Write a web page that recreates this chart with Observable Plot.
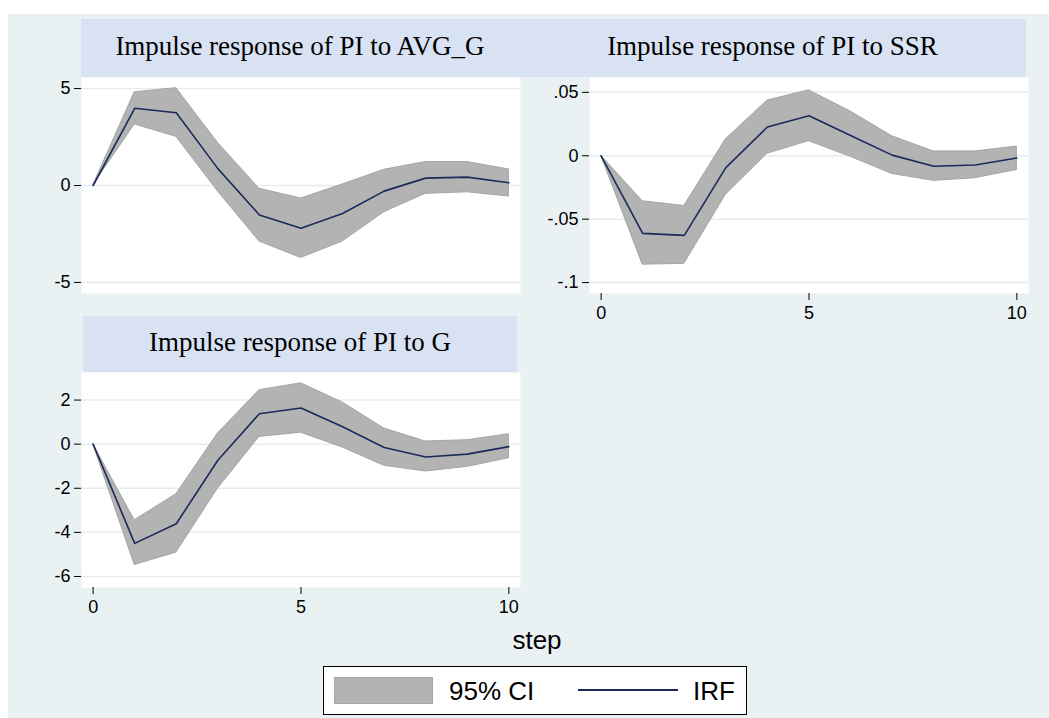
<!DOCTYPE html>
<html>
<head>
<meta charset="utf-8">
<script src="https://cdn.jsdelivr.net/npm/d3@7"></script>
<script src="https://cdn.jsdelivr.net/npm/@observablehq/plot@0.6"></script>
<style>
  body { margin: 0; background: #ffffff; }
  #root { position: relative; width: 1049px; height: 718px; overflow: hidden; background: #ffffff; }
  .abs { position: absolute; }
  .bg { left: 8px; top: 14px; width: 1041px; height: 704px; background: #e9f1f3; }
  .band { background: #d9e2f2; display: flex; align-items: center; justify-content: center;
          font-family: "Liberation Serif", "Times New Roman", serif; font-size: 27px; color: #000; white-space: nowrap; }
  .band span { transform: translateY(-2px); }
  .sans { font-family: "Liberation Sans", Arial, sans-serif; color: #000; white-space: nowrap; }
</style>
</head>
<body>
<div id="root">
  <div class="abs bg"></div>
</div>
<script>
// ---- data ----
const steps = [0, 1, 2, 3, 4, 5, 6, 7, 8, 9, 10];

const avgIrf = [0, 3.98, 3.75, 0.87, -1.52, -2.21, -1.44, -0.29, 0.38, 0.43, 0.14];
const avgHi  = [0, 4.81, 5.02, 2.2, -0.17, -0.67, 0.05, 0.81, 1.21, 1.21, 0.83];
const avgLo  = [0, 3.15, 2.51, -0.3, -2.89, -3.74, -2.89, -1.38, -0.43, -0.35, -0.57];

const ssrIrf = [0, -0.0612, -0.0628, -0.0094, 0.0227, 0.0315, 0.016, 0.0005, -0.0083, -0.0073, -0.0018];
const ssrHi  = [0, -0.0359, -0.0396, 0.013, 0.0435, 0.0516, 0.0349, 0.0154, 0.0034, 0.0034, 0.0073];
const ssrLo  = [0, -0.0859, -0.0852, -0.0307, 0.0016, 0.0115, -0.0008, -0.0143, -0.0198, -0.0177, -0.0112];

const gIrf = [0, -4.5, -3.61, -0.73, 1.38, 1.64, 0.79, -0.15, -0.58, -0.45, -0.11];
const gHi  = [0, -3.45, -2.27, 0.48, 2.45, 2.76, 1.89, 0.71, 0.12, 0.18, 0.45];
const gLo  = [0, -5.48, -4.92, -2.02, 0.33, 0.52, -0.15, -0.98, -1.24, -1.03, -0.64];

const titles = ["Impulse response of PI to AVG_G", "Impulse response of PI to SSR", "Impulse response of PI to G"];

const xTicks = [0, 5, 10];
const yTicksAvg = [-5, 0, 5];
const yLabelsAvg = ["-5", "0", "5"];
const yTicksSsr = [-0.1, -0.05, 0, 0.05];
const yLabelsSsr = ["-.1", "-.05", "0", ".05"];
const yTicksG = [-6, -4, -2, 0, 2];
const yLabelsG = ["-6", "-4", "-2", "0", "2"];

const xLabel = "step";
const legendCI = "95% CI";
const legendIRF = "IRF";

// ---- helpers ----
const root = document.getElementById("root");
function rows(irf, lo, hi) {
  return steps.map((s, i) => ({step: s, irf: irf[i], lo: lo[i], hi: hi[i]}));
}
const CI_FILL = "#b3b3b3", CI_STROKE = "#a5a5a5", IRF_COLOR = "#1b2a5c", GRID = "#e4ecef";

function panel({data, yDomain, yTicks, yLabels, showX, left, plotTop, plotH}) {
  const mt = 10, mb = showX ? 40 : 10;
  const chart = Plot.plot({
    width: 500,
    height: plotH + mt + mb,
    marginLeft: 61, marginRight: 0, marginTop: mt, marginBottom: mb,
    style: {background: "transparent", fontFamily: "'Liberation Sans', Arial, sans-serif", fontSize: "18px", color: "#000", overflow: "visible"},
    x: {domain: [-0.28, 10.28]},
    y: {domain: yDomain},
    marks: [
      Plot.frame({fill: "white", stroke: "none"}),
      Plot.gridY(yTicks, {stroke: GRID, strokeOpacity: 1, strokeWidth: 1.5}),
      Plot.areaY(data, {x: "step", y1: "lo", y2: "hi", fill: CI_FILL, fillOpacity: 1, stroke: CI_STROKE, strokeWidth: 1}),
      Plot.lineY(data, {x: "step", y: "irf", stroke: IRF_COLOR, strokeWidth: 1.6}),
      Plot.axisY({ticks: yTicks, tickFormat: (d) => yLabels[yTicks.indexOf(d)], tickSize: 7, tickPadding: 4, label: null, line: true, fontSize: 18, stroke: "#000"}),
      showX
        ? Plot.axisX({ticks: xTicks, tickSize: 7, tickPadding: 6, label: null, line: true, fontSize: 18, stroke: "#000"})
        : Plot.axisX({ticks: [], label: null})
    ]
  });
  chart.style.position = "absolute";
  chart.style.left = left + "px";
  chart.style.top = (plotTop - mt) + "px";
  root.appendChild(chart);
}

function band(text, left, top, w, h) {
  const d = document.createElement("div");
  d.className = "abs band";
  Object.assign(d.style, {left: left + "px", top: top + "px", width: w + "px", height: h + "px"});
  const s = document.createElement("span");
  s.textContent = text;
  d.appendChild(s);
  root.appendChild(d);
}

// title bands
band(titles[0], 81, 19, 438, 58);
band(titles[1], 519, 19, 507, 58);
band(titles[2], 83, 316, 434, 56);

// panels
panel({data: rows(avgIrf, avgLo, avgHi), yDomain: [-5.57, 5.57], yTicks: yTicksAvg, yLabels: yLabelsAvg,
       showX: false, left: 19.7, plotTop: 77, plotH: 216});
panel({data: rows(ssrIrf, ssrLo, ssrHi), yDomain: [-0.1086, 0.0617], yTicks: yTicksSsr, yLabels: yLabelsSsr,
       showX: true, left: 528.3, plotTop: 77, plotH: 216});
panel({data: rows(gIrf, gLo, gHi), yDomain: [-6.5, 3.25], yTicks: yTicksG, yLabels: yLabelsG,
       showX: true, left: 19.7, plotTop: 372, plotH: 215});

// x axis title
const st = document.createElement("div");
st.className = "abs sans";
Object.assign(st.style, {left: "437px", width: "200px", textAlign: "center", top: "627px", fontSize: "26px", lineHeight: "26px"});
st.textContent = xLabel;
root.appendChild(st);

// legend
const lg = document.createElement("div");
lg.className = "abs";
Object.assign(lg.style, {left: "323px", top: "666px", width: "424px", height: "49px", background: "#fff", border: "1px solid #000", boxSizing: "border-box"});
root.appendChild(lg);

const sw = document.createElement("div");
sw.className = "abs";
Object.assign(sw.style, {left: "334px", top: "677px", width: "99px", height: "27px", background: CI_FILL, border: "1px solid " + CI_STROKE, boxSizing: "border-box"});
root.appendChild(sw);

const ln = document.createElement("div");
ln.className = "abs";
Object.assign(ln.style, {left: "578px", top: "689px", width: "100px", height: "2px", background: IRF_COLOR});
root.appendChild(ln);

function legText(t, left) {
  const d = document.createElement("div");
  d.className = "abs sans";
  Object.assign(d.style, {left: left + "px", top: (691 - 15) + "px", fontSize: "26px", lineHeight: "30px"});
  d.textContent = t;
  root.appendChild(d);
}
legText(legendCI, 449);
legText(legendIRF, 693);
</script>
</body>
</html>
